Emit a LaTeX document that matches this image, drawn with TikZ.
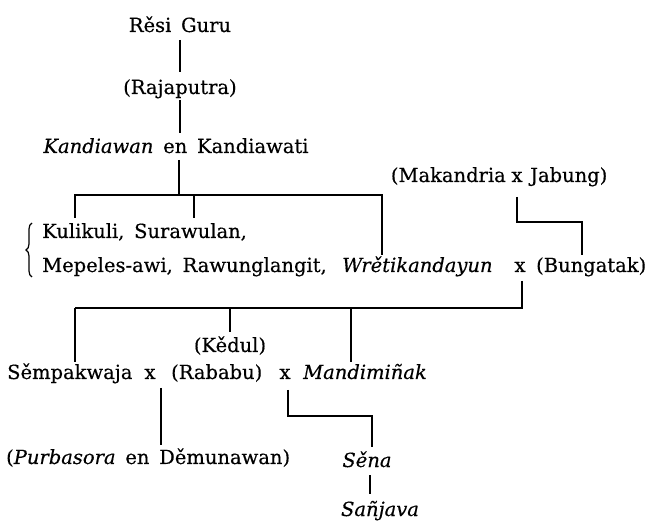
\documentclass[tikz,border=0pt]{standalone}
\usepackage{fontspec}
\setmainfont{DejaVu Serif}[UprightFeatures={FakeBold=0.4},ItalicFeatures={FakeBold=0.4}]
\usetikzlibrary{decorations.pathreplacing}
\newcommand\wsp{\hspace{0.5em}}
\begin{document}
\begin{tikzpicture}[x=1pt,y=1pt,
  txt/.style={inner sep=0pt,text height=14pt,text depth=4pt,font=\fontsize{19.5}{23}\selectfont},
  ln/.style={line width=2.1pt},
  brc/.style={line width=1.2pt}]
\useasboundingbox (0,0) rectangle (651,-521);
% nodes
\node[txt,anchor=base] (resi) at (180,-32) {Rěsi\wsp Guru};
\node[txt,anchor=base] (raja) at (180,-94) {(Rajaputra)};
\node[txt,anchor=base] (kand) at (176,-153) {\textit{Kandiawan}\wsp en\wsp Kandiawati};
\node[txt,anchor=base west] (kuli) at (42,-238) {Kulikuli,\wsp Surawulan,};
\node[txt,anchor=base west] (mep) at (42,-272) {Mepeles-awi,\wsp Rawunglangit,};
\node[txt,anchor=base west] (wret) at (342,-272) {\textit{Wrětikandayun}};
\node[txt,anchor=base] (x1) at (520,-272) {x};
\node[txt,anchor=base west] (bung) at (536,-272) {(Bungatak)};
\node[txt,anchor=base east] (mak) at (506,-182) {(Makandria};
\node[txt,anchor=base] (mx) at (517,-182) {x};
\node[txt,anchor=base west] (jab) at (530,-182) {Jabung)};
\node[txt,anchor=base west] (semp) at (7,-379) {Sěmpakwaja};
\node[txt,anchor=base] (x2) at (150,-379) {x};
\node[txt,anchor=base west] (rab) at (171,-379) {(Rababu)};
\node[txt,anchor=base] (kedul) at (230,-352) {(Kědul)};
\node[txt,anchor=base] (x3) at (285,-379) {x};
\node[txt,anchor=base west] (mand) at (303,-379) {\textit{Mandimiñak}};
\node[txt,anchor=base west] (purb) at (6,-464) {(\textit{Purbasora}\wsp en\wsp Děmunawan)};
\node[txt,anchor=base] (sena) at (367,-467) {\textit{Sěna}};
\node[txt,anchor=base] (sanj) at (380,-516) {\textit{Sañjava}};
% helper coordinates
\coordinate (j1) at (179,-195);
\coordinate (j2) at (75,-308);
\coordinate (ktop) at ([yshift=20pt]kand.base);
\coordinate (purbtop) at ([yshift=19pt]purb.base);
\coordinate (senatop) at ([xshift=5pt,yshift=20pt]sena.base);
% brace
\draw[brc,decorate,decoration={brace,amplitude=6pt}] (32,-277) -- (32,-223);
% connectors
\draw[ln] ([yshift=-8pt]resi.base) -- ([yshift=22pt]raja.base);
\draw[ln] ([yshift=-6pt]raja.base) -- (raja.base |- ktop);
\draw[ln] ([yshift=-7pt]kand.base -| j1) -- (j1);
\draw[ln] ([xshift=33pt,yshift=20pt]kuli.base west) |- (j1);
\draw[ln] ([xshift=152pt,yshift=20pt]kuli.base west) |- (j1);
\draw[ln] ([xshift=40pt,yshift=17pt]wret.base west) |- (j1);
\draw[ln] ([yshift=-15pt]mx.base) -- ++(0,-25pt) -| ([xshift=46pt,yshift=17pt]bung.base west);
\draw[ln] ([xshift=2pt,yshift=-9pt]x1.base) |- (j2);
\draw[ln] (j2) -- ([xshift=68pt,yshift=17pt]semp.base west);
\draw[ln] ([yshift=20pt]kedul.base) -- (kedul.base |- j2);
\draw[ln] ([xshift=48pt,yshift=17pt]mand.base west) |- (j2);
\draw[ln] ([xshift=11pt,yshift=-9pt]x2.base) -- ([xshift=11pt]x2.base |- purbtop);
\draw[ln] ([xshift=3pt,yshift=-11pt]x3.base) -- ++(0,-26pt) -| (senatop);
\draw[ln] ([xshift=3pt,yshift=-8pt]sena.base) -- ([xshift=-10pt,yshift=22pt]sanj.base);
\end{tikzpicture}
\end{document}
